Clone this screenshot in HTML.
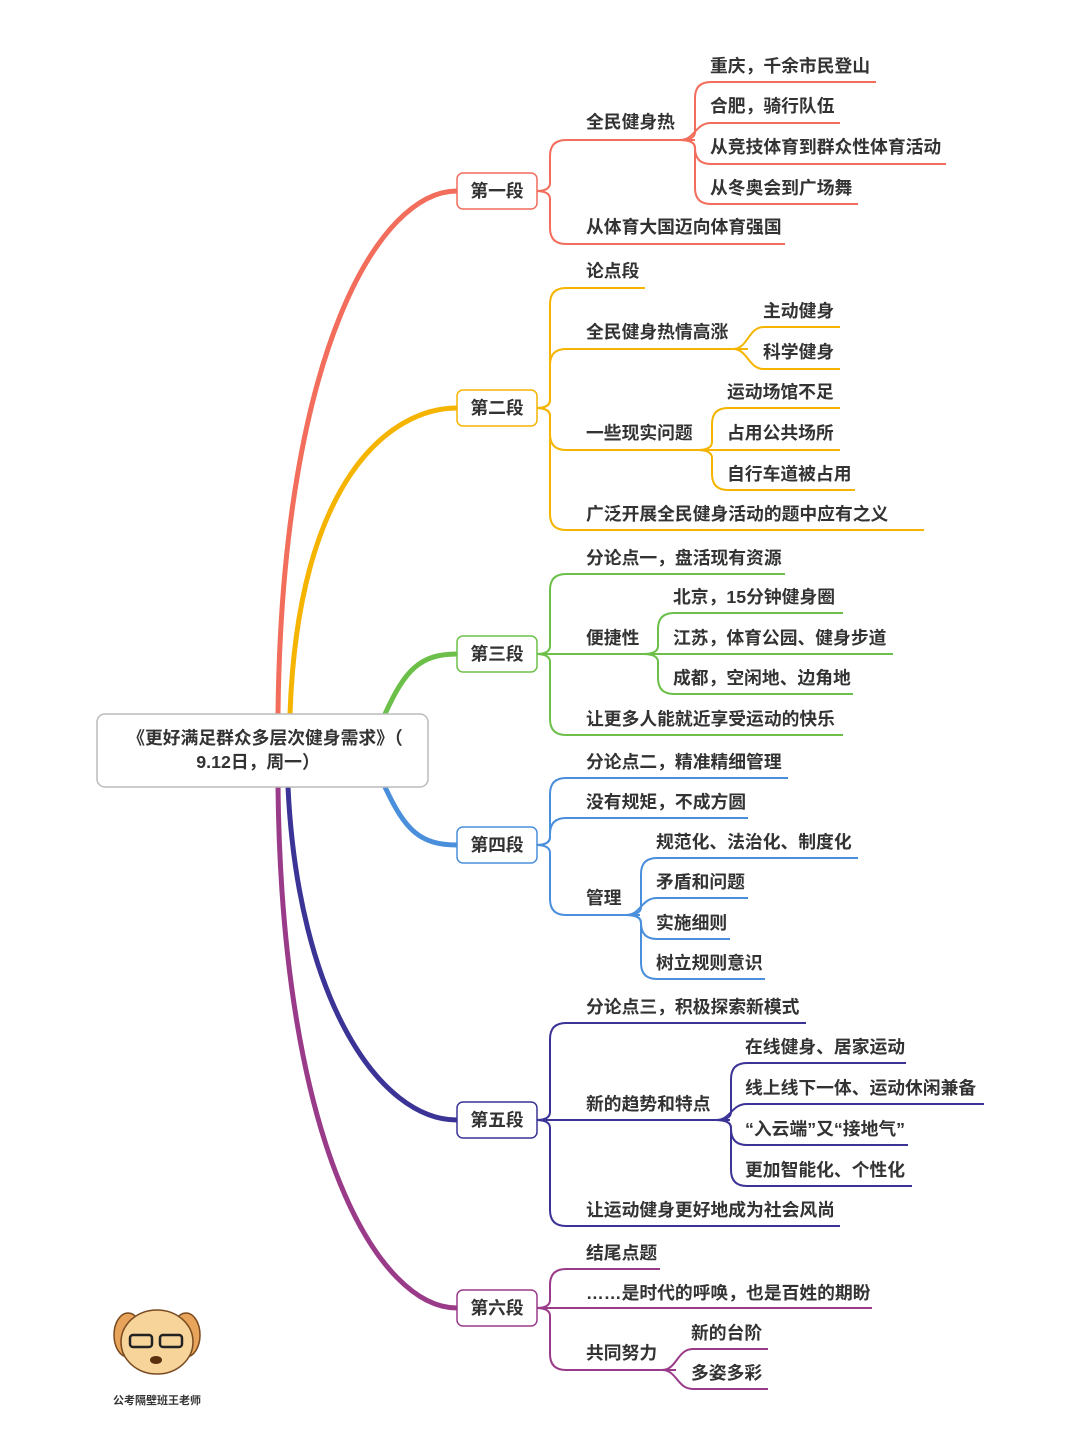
<!DOCTYPE html>
<html><head><meta charset="utf-8"><style>
html,body{margin:0;padding:0;background:#fff}
svg{display:block}
text{font-family:"Liberation Sans","Noto Sans CJK SC",sans-serif;font-weight:bold;font-size:17.8px;fill:#333}
.s{fill:none;stroke-width:2}
</style></head><body>
<svg width="1080" height="1440" viewBox="0 0 1080 1440">
<g fill="none" stroke-width="5" stroke-linecap="round">
<path d="M278,714 C282,350 380,191 457,191" stroke="#f26d5b"/>
<path d="M290,714 C298,480 390,408 457,408" stroke="#f5b400"/>
<path d="M385,714 C405,670 420,654 457,654" stroke="#6cc04a"/>
<path d="M385,787 C405,830 420,845 457,845" stroke="#4a8fdb"/>
<path d="M288,787 C298,1000 380,1120 457,1120" stroke="#3b3496"/>
<path d="M278,787 C282,1150 380,1308 457,1308" stroke="#9a3b8a"/>
</g>
<rect x="97" y="714" width="331" height="73" rx="8" fill="#fff" stroke="#bbb" stroke-width="1.5"/>
<text x="265" y="744" text-anchor="middle">《更好满足群众多层次健身需求》（</text>
<text x="258" y="768" text-anchor="middle">9.12日，周一）</text>

<g class="s" stroke="#f26d5b">
<path d="M536,191 Q550,191 550,183 V156 Q550,140 566,140 H695"/>
<path d="M536,191 Q550,191 550,199 V228 Q550,244 566,244 H785"/>
<path d="M680,140 Q695,140 695,132 V98 Q695,82 711,82 H876"/>
<path d="M680,140 C695,140 695,123 711,123 H840"/>
<path d="M680,140 Q695,140 695,148 Q695,164 711,164 H946"/>
<path d="M680,140 Q695,140 695,148 V188 Q695,204 711,204 H858"/>
</g>
<rect x="457" y="173" width="80" height="36" rx="6" fill="#fff" stroke="#f26d5b" stroke-width="1.5"/>
<text x="497" y="197" text-anchor="middle">第一段</text>
<text x="586" y="128">全民健身热</text>
<text x="586" y="233">从体育大国迈向体育强国</text>
<text x="710" y="72">重庆，千余市民登山</text>
<text x="710" y="112">合肥，骑行队伍</text>
<text x="710" y="153">从竞技体育到群众性体育活动</text>
<text x="710" y="194">从冬奥会到广场舞</text>

<g class="s" stroke="#f5b400">
<path d="M536,408 Q550,408 550,400 V304 Q550,288 566,288 H645"/>
<path d="M536,408 Q550,408 550,400 V365 Q550,349 566,349 H748"/>
<path d="M536,408 Q550,408 550,416 V434 Q550,450 566,450 H711"/>
<path d="M536,408 Q550,408 550,416 V514 Q550,530 566,530 H924"/>
<path d="M733,349 C748,349 748,327 764,327 H840"/>
<path d="M733,349 C748,349 748,369 764,369 H840"/>
<path d="M697,450 Q712,450 712,442 V424 Q712,408 728,408 H840"/>
<path d="M697,450 H840"/>
<path d="M697,450 Q712,450 712,458 V474 Q712,490 728,490 H855"/>
</g>
<rect x="457" y="390" width="80" height="36" rx="6" fill="#fff" stroke="#f5b400" stroke-width="1.5"/>
<text x="497" y="414" text-anchor="middle">第二段</text>
<text x="586" y="277">论点段</text>
<text x="586" y="338">全民健身热情高涨</text>
<text x="586" y="439">一些现实问题</text>
<text x="586" y="520">广泛开展全民健身活动的题中应有之义</text>
<text x="763" y="317">主动健身</text>
<text x="763" y="358">科学健身</text>
<text x="727" y="398">运动场馆不足</text>
<text x="727" y="439">占用公共场所</text>
<text x="727" y="480">自行车道被占用</text>

<g class="s" stroke="#6cc04a">
<path d="M536,654 Q550,654 550,646 V590 Q550,574 566,574 H785"/>
<path d="M536,654 H657"/>
<path d="M536,654 Q550,654 550,662 V719 Q550,735 566,735 H843"/>
<path d="M643,654 Q658,654 658,646 V629 Q658,613 674,613 H843"/>
<path d="M643,654 H893"/>
<path d="M643,654 Q658,654 658,662 V678 Q658,694 674,694 H853"/>
</g>
<rect x="457" y="636" width="80" height="36" rx="6" fill="#fff" stroke="#6cc04a" stroke-width="1.5"/>
<text x="497" y="660" text-anchor="middle">第三段</text>
<text x="586" y="564">分论点一，盘活现有资源</text>
<text x="586" y="644">便捷性</text>
<text x="586" y="725">让更多人能就近享受运动的快乐</text>
<text x="673" y="603">北京，15分钟健身圈</text>
<text x="673" y="644">江苏，体育公园、健身步道</text>
<text x="673" y="684">成都，空闲地、边角地</text>

<g class="s" stroke="#4a8fdb">
<path d="M536,845 Q550,845 550,837 V794 Q550,778 566,778 H788"/>
<path d="M536,845 Q550,845 550,837 V834 Q550,818 566,818 H748"/>
<path d="M536,845 Q550,845 550,853 V899 Q550,915 566,915 H640"/>
<path d="M626,915 Q641,915 641,907 V874 Q641,858 657,858 H858"/>
<path d="M626,915 C641,915 641,898 657,898 H748"/>
<path d="M626,915 Q641,915 641,923 Q641,939 657,939 H730"/>
<path d="M626,915 Q641,915 641,923 V963 Q641,979 657,979 H765"/>
</g>
<rect x="457" y="827" width="80" height="36" rx="6" fill="#fff" stroke="#4a8fdb" stroke-width="1.5"/>
<text x="497" y="851" text-anchor="middle">第四段</text>
<text x="586" y="768">分论点二，精准精细管理</text>
<text x="586" y="808">没有规矩，不成方圆</text>
<text x="586" y="904">管理</text>
<text x="656" y="848">规范化、法治化、制度化</text>
<text x="656" y="888">矛盾和问题</text>
<text x="656" y="929">实施细则</text>
<text x="656" y="969">树立规则意识</text>

<g class="s" stroke="#3b3496">
<path d="M536,1120 Q550,1120 550,1112 V1039 Q550,1023 566,1023 H806"/>
<path d="M536,1120 H730"/>
<path d="M536,1120 Q550,1120 550,1128 V1210 Q550,1226 566,1226 H840"/>
<path d="M716,1120 Q731,1120 731,1112 V1079 Q731,1063 747,1063 H906"/>
<path d="M716,1120 C731,1120 731,1104 747,1104 H984"/>
<path d="M716,1120 Q731,1120 731,1128 V1129 Q731,1145 747,1145 H908"/>
<path d="M716,1120 Q731,1120 731,1128 V1170 Q731,1186 747,1186 H912"/>
</g>
<rect x="457" y="1102" width="80" height="36" rx="6" fill="#fff" stroke="#3b3496" stroke-width="1.5"/>
<text x="497" y="1126" text-anchor="middle">第五段</text>
<text x="586" y="1013">分论点三，积极探索新模式</text>
<text x="586" y="1110">新的趋势和特点</text>
<text x="586" y="1216">让运动健身更好地成为社会风尚</text>
<text x="745" y="1053">在线健身、居家运动</text>
<text x="745" y="1094">线上线下一体、运动休闲兼备</text>
<text x="745" y="1135">“入云端”又“接地气”</text>
<text x="745" y="1176">更加智能化、个性化</text>

<g class="s" stroke="#9a3b8a">
<path d="M536,1308 Q550,1308 550,1300 V1285 Q550,1269 566,1269 H660"/>
<path d="M536,1308 H872"/>
<path d="M536,1308 Q550,1308 550,1316 V1354 Q550,1370 566,1370 H676"/>
<path d="M662,1370 C677,1370 677,1349 693,1349 H768"/>
<path d="M662,1370 C677,1370 677,1389 693,1389 H768"/>
</g>
<rect x="457" y="1290" width="80" height="36" rx="6" fill="#fff" stroke="#9a3b8a" stroke-width="1.5"/>
<text x="497" y="1314" text-anchor="middle">第六段</text>
<text x="586" y="1259">结尾点题</text>
<text x="586" y="1299">……是时代的呼唤，也是百姓的期盼</text>
<text x="586" y="1359">共同努力</text>
<text x="691" y="1339">新的台阶</text>
<text x="691" y="1379">多姿多彩</text>

<g>
<ellipse cx="128" cy="1335" rx="14" ry="22" fill="#e8a45a" stroke="#7a4a20" stroke-width="1.5"/>
<ellipse cx="186" cy="1335" rx="14" ry="22" fill="#e8a45a" stroke="#7a4a20" stroke-width="1.5"/>
<ellipse cx="157" cy="1342" rx="36" ry="32" fill="#f6d49a" stroke="#7a4a20" stroke-width="1.5"/>
<rect x="130" y="1335" width="22" height="12" rx="3" fill="none" stroke="#222" stroke-width="2.5"/>
<rect x="160" y="1335" width="22" height="12" rx="3" fill="none" stroke="#222" stroke-width="2.5"/>
<ellipse cx="156" cy="1360" rx="6" ry="4" fill="#5a3010"/>
</g>
<text x="157" y="1404" text-anchor="middle" style="font-size:11px">公考隔壁班王老师</text>
</svg>
</body></html>
